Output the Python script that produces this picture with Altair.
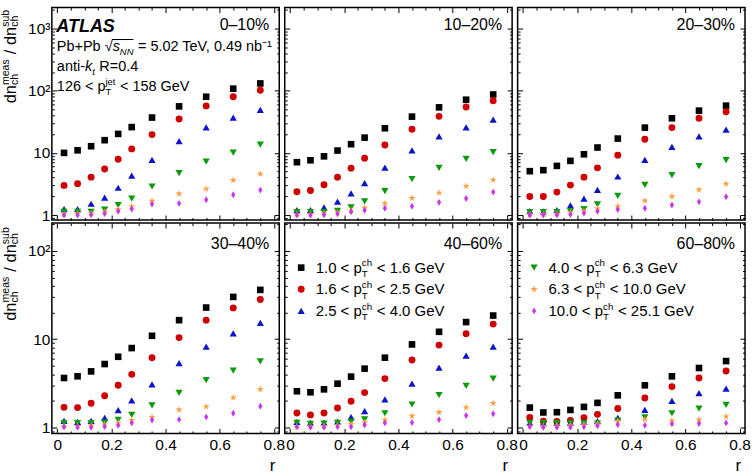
import altair as alt
import pandas as pd

# radial bin centres
R = [0.025, 0.075, 0.125, 0.175, 0.225, 0.275, 0.35, 0.45, 0.55, 0.65, 0.75]

# charged-particle pT intervals (GeV)
PT_LO = ["1.0", "1.6", "2.5", "4.0", "6.3", "10.0"]
PT_HI = ["1.6", "2.5", "4.0", "6.3", "10.0", "25.1"]
SERIES = [f"{a}-{b}" for a, b in zip(PT_LO, PT_HI)]

CENT = ["0–10%", "10–20%", "20–30%", "30–40%", "40–60%", "60–80%"]

# dn_meas / dn_sub per centrality, one list per pT interval
c0_10 = [
    [10.0, 11.0, 12.8, 16.0, 20.2, 26.0, 37.0, 56.0, 80.0, 108.0, 131.0],
    [3.0, 3.2, 4.07, 5.5, 7.9, 11.6, 19.7, 35.0, 57.0, 80.0, 102.0],
    [1.25, 1.25, 1.52, 1.9, 2.75, 4.3, 7.7, 15.4, 25.8, 36.9, 49.0],
    [1.13, 1.13, 1.13, 1.22, 1.45, 1.83, 2.88, 4.72, 7.26, 10.1, 13.6],
    [1.02, 1.05, 1.06, 1.12, 1.23, 1.38, 1.68, 2.2, 2.64, 3.64, 4.6],
    [1.0, 1.0, 1.01, 1.06, 1.15, 1.25, 1.5, 1.54, 1.76, 2.12, 2.52],
]
c10_20 = [
    [7.08, 7.6, 8.8, 10.9, 13.8, 17.6, 24.9, 38.3, 54.0, 71.7, 87.0],
    [2.37, 2.49, 3.07, 4.07, 5.68, 8.2, 13.4, 24.0, 38.7, 54.7, 69.0],
    [1.2, 1.2, 1.33, 1.64, 2.23, 3.26, 5.8, 11.0, 18.5, 25.8, 34.3],
    [1.12, 1.12, 1.12, 1.17, 1.33, 1.66, 2.43, 3.78, 5.74, 8.0, 10.3],
    [1.02, 1.03, 1.05, 1.1, 1.18, 1.3, 1.54, 1.87, 2.28, 2.92, 3.69],
    [1.0, 1.0, 1.01, 1.05, 1.13, 1.19, 1.29, 1.39, 1.6, 1.85, 2.34],
]
c20_30 = [
    [5.08, 5.27, 6.18, 7.44, 9.5, 12.2, 17.0, 25.5, 36.0, 47.8, 57.5],
    [1.99, 1.99, 2.34, 3.03, 4.07, 5.74, 9.2, 16.6, 25.5, 36.0, 46.0],
    [1.16, 1.15, 1.2, 1.43, 1.83, 2.55, 4.17, 7.7, 12.5, 18.5, 23.7],
    [1.12, 1.12, 1.12, 1.15, 1.25, 1.48, 2.04, 3.07, 4.38, 6.1, 7.63],
    [1.02, 1.03, 1.05, 1.1, 1.17, 1.27, 1.38, 1.7, 1.99, 2.55, 3.18],
    [1.0, 1.0, 1.01, 1.02, 1.08, 1.15, 1.23, 1.29, 1.45, 1.64, 1.97],
]
c30_40 = [
    [3.62, 3.78, 4.3, 5.21, 6.3, 7.91, 10.9, 16.4, 22.8, 30.1, 36.2],
    [1.68, 1.67, 1.87, 2.28, 2.99, 3.98, 6.15, 10.4, 16.4, 22.6, 28.1],
    [1.18, 1.15, 1.18, 1.28, 1.56, 2.02, 3.07, 5.35, 8.19, 11.6, 15.3],
    [1.11, 1.11, 1.11, 1.13, 1.21, 1.38, 1.77, 2.45, 3.43, 4.38, 5.58],
    [1.02, 1.03, 1.04, 1.07, 1.12, 1.2, 1.3, 1.58, 1.71, 2.17, 2.69],
    [1.01, 1.0, 1.0, 1.02, 1.05, 1.12, 1.21, 1.22, 1.31, 1.44, 1.73],
]
c40_60 = [
    [2.56, 2.49, 2.69, 3.12, 3.75, 4.62, 6.15, 8.7, 12.1, 15.6, 18.5],
    [1.45, 1.38, 1.45, 1.65, 1.97, 2.47, 3.56, 5.78, 8.55, 11.5, 14.8],
    [1.15, 1.12, 1.13, 1.16, 1.3, 1.52, 2.07, 3.12, 4.74, 6.48, 8.19],
    [1.12, 1.09, 1.1, 1.12, 1.16, 1.23, 1.44, 1.81, 2.32, 2.94, 3.56],
    [1.01, 1.02, 1.03, 1.05, 1.08, 1.13, 1.21, 1.34, 1.48, 1.68, 1.87],
    [1.01, 1.0, 1.0, 1.01, 1.01, 1.06, 1.12, 1.13, 1.22, 1.36, 1.42],
]
c60_80 = [
    [1.67, 1.47, 1.48, 1.57, 1.7, 1.89, 2.3, 2.99, 3.78, 4.7, 5.63],
    [1.29, 1.17, 1.16, 1.19, 1.28, 1.4, 1.63, 2.15, 2.89, 3.62, 4.34],
    [1.12, 1.11, 1.12, 1.13, 1.16, 1.17, 1.28, 1.57, 1.99, 2.43, 2.74],
    [1.12, 1.11, 1.11, 1.12, 1.11, 1.1, 1.19, 1.29, 1.44, 1.63, 1.79],
    [1.03, 1.03, 1.04, 1.05, 1.07, 1.1, 1.17, 1.22, 1.19, 1.22, 1.32],
    [1.02, 1.0, 1.0, 1.0, 1.01, 1.04, 1.07, 1.05, 1.09, 1.1, 1.12],
]
PANELS = [c0_10, c10_20, c20_30, c30_40, c40_60, c60_80]

# marker styles
STAR = ("M0,-1L0.225,-0.309L0.951,-0.309L0.363,0.118L0.588,0.809L0,0.382"
        "L-0.588,0.809L-0.363,0.118L-0.951,-0.309L-0.225,-0.309Z")
DIAMOND = "M0,-1L0.6,0L0,1L-0.6,0Z"
SHAPES = ["square", "circle", "triangle-up", "triangle-down", STAR, DIAMOND]
COLORS = ["#000000", "#d00000", "#0a14c8", "#0a9a0a", "#ffa040", "#cc33ee"]
SIZES = [44, 48, 52, 52, 58, 48]

FONT = "Liberation Sans"
W = 228
HEIGHTS = [213, 211]
XDOM = [-0.02, 0.82]
YDOMS = [[0.831, 2173], [0.849, 207.5]]
XMAJ = [0, 0.2, 0.4, 0.6, 0.8]
XMIN = [0.05, 0.1, 0.15, 0.25, 0.3, 0.35, 0.45, 0.5, 0.55, 0.65, 0.7, 0.75]
YMAJ = [[1, 10, 100, 1000], [1, 10, 100]]
YMIN = [
    [0.9] + [m * d for d in (1, 10, 100) for m in range(2, 10)] + [2000],
    [0.9] + [m * d for d in (1, 10) for m in range(2, 10)] + [200],
]

ONE = pd.DataFrame({"k": [0]})

# Arial / Liberation Sans advance widths (1/1000 em)
ADV = {" ": 278, ".": 278, ",": 278, "<": 584, "=": 584, "+": 584, "-": 333,
       "–": 556, "%": 889, "/": 278, "√": 549, "A": 667, "G": 778,
       "L": 556, "N": 722, "P": 667, "R": 722, "S": 667, "T": 611, "V": 667,
       "a": 556, "b": 556, "c": 500, "d": 556, "e": 556, "h": 556, "i": 222,
       "j": 222, "k": 500, "m": 833, "n": 556, "p": 556, "r": 333, "s": 500,
       "t": 278, "u": 556}


def tw(s, size):
    return sum(ADV.get(ch, 556) for ch in s) / 1000 * size


def txt(s, x, y, size, dx=0.0, dy=0.0, style="normal", weight="normal",
        align="left", angle=0):
    kw = dict(text=s, fontSize=size, font=FONT, align=align,
              baseline="alphabetic", dx=dx, dy=dy, color="black",
              fontStyle=style, fontWeight=weight)
    if angle:
        kw["angle"] = angle
    return alt.Chart(ONE).mark_text(**kw).encode(x=alt.value(x), y=alt.value(y))


def rich(pieces, x, y, size, angle=0, sub_dy=None, sup_dy=None, small=0.65):
    """Lay out a line with sub/superscripts as a sequence of text marks.
    Returns the layers and the advance at the start of every piece.
    Leading blanks are turned into advance, since SVG drops them."""
    sub_dy = 0.3 * size if sub_dy is None else sub_dy
    sup_dy = -0.42 * size if sup_dy is None else sup_dy
    ss = size * small
    out, starts, adv = [], [], 0.0
    for p in pieces:
        starts.append(adv)
        if p[0] == "n":
            style = p[2] if len(p) > 2 else "normal"
            body = p[1].lstrip(" ")
            adv += tw(p[1][: len(p[1]) - len(body)], size)
            out.append(txt(body, x, y, size, dx=adv, style=style, angle=angle))
            adv += tw(body, size)
        else:
            sub, sup = p[1], p[2]
            style = p[3] if len(p) > 3 else "normal"
            if sub:
                out.append(txt(sub, x, y, ss, dx=adv, dy=sub_dy, style=style, angle=angle))
            if sup:
                out.append(txt(sup, x, y, ss, dx=adv, dy=sup_dy, style=style, angle=angle))
            adv += max(tw(sub, ss), tw(sup, ss)) + 0.5
    starts.append(adv)
    return out, starts


def tick_axis(orient, offset, values, size):
    return alt.Axis(orient=orient, offset=offset, values=values, tickSize=size,
                    tickColor="black", tickWidth=1, labels=False, domain=False,
                    grid=False, title=None)


def panel(idx):
    row, col = divmod(idx, 3)
    H = HEIGHTS[row]
    vals = PANELS[idx]
    df = pd.DataFrame([
        {"r": R[j], "v": vals[i][j], "series": SERIES[i]}
        for i in range(len(SERIES)) for j in range(len(R))
    ])
    xs = alt.Scale(domain=XDOM, nice=False, zero=False)
    ys = alt.Scale(type="log", domain=YDOMS[row], nice=False)
    base = alt.Chart(df)

    xlab = None
    if row == 1:
        xlab = alt.Axis(orient="bottom", values=XMAJ, ticks=False, tickSize=0,
                        domain=False, grid=False, title=None, format=".1~f",
                        labelFont=FONT, labelFontSize=15.5, labelColor="black",
                        labelPadding=4, labelFlush=False, labelOverlap=False,
                        labelBaseline="top")
    ylab = None
    if col == 0:
        ylab = alt.Axis(orient="left", values=YMAJ[row], ticks=False, tickSize=0,
                        domain=False, grid=False, title=None,
                        labelExpr="datum.value >= 1000 ? '10³' : datum.value >= 100 ? '10²' : datum.value >= 10 ? '10' : '1'",
                        labelFont=FONT, labelFontSize=15.5, labelColor="black",
                        labelPadding=2, labelFlush=False, labelOverlap=False)

    pts = base.mark_point(filled=True, opacity=1, strokeWidth=0).encode(
        x=alt.X("r:Q", scale=xs, axis=xlab),
        y=alt.Y("v:Q", scale=ys, axis=ylab),
        shape=alt.Shape("series:N", scale=alt.Scale(domain=SERIES, range=SHAPES), legend=None),
        color=alt.Color("series:N", scale=alt.Scale(domain=SERIES, range=COLORS), legend=None),
        size=alt.Size("series:O", scale=alt.Scale(type="ordinal", domain=SERIES, range=SIZES), legend=None),
    )

    layers = [pts]
    # inward ticks on all four edges
    for xo, yo, xv, yv, sz in [
        ("top", "right", XMAJ, YMAJ[row], 5),
        ("top", "right", XMIN, YMIN[row], 2.5),
        ("bottom", "left", XMAJ, YMAJ[row], 5),
        ("bottom", "left", XMIN, YMIN[row], 2.5),
    ]:
        layers.append(base.mark_point(opacity=0).encode(
            x=alt.X("r:Q", scale=xs, axis=tick_axis(xo, -H, xv, sz)),
            y=alt.Y("v:Q", scale=ys, axis=tick_axis(yo, -W, yv, sz)),
        ))

    # centrality label
    cy = 22.5 if row == 0 else 26
    layers.append(txt(CENT[idx], W - 10, cy, 16, align="right"))

    if col == 0:
        t, _ = rich([("n", "dn"), ("s", "ch", "meas"), ("n", " / "),
                     ("n", "dn"), ("s", "ch", "sub")],
                    -36, 96 if row == 0 else 98, 16.5, angle=270,
                    sub_dy=2.5, sup_dy=-7, small=0.64)
        layers += t
    if idx == 0:
        fs = 14.5
        layers.append(txt("ATLAS", 4.5, 24.7, 18, style="italic", weight="bold"))
        x0, y0 = 5, 43.3
        t, st = rich([("n", "Pb+Pb "), ("n", "√"), ("n", "s", "italic"),
                      ("s", "NN", "", "italic"), ("n", " = 5.02 TeV, 0.49 nb⁻¹")],
                     x0, y0, fs)
        layers += t
        # overline of the square root
        layers.append(alt.Chart(ONE).mark_rule(color="black", strokeWidth=1).encode(
            x=alt.value(x0 + st[1] + tw("√", fs) - 0.8), x2=alt.value(x0 + st[4] - 0.5),
            y=alt.value(y0 - 0.78 * fs)))
        t, _ = rich([("n", "anti-"), ("n", "k", "italic"), ("s", "t", "", "italic"),
                     ("n", " R=0.4")], x0, 63.3, fs)
        layers += t
        t, _ = rich([("n", "126 < p"), ("s", "T", "jet"), ("n", " < 158 GeV")],
                    x0, 83.3, fs)
        layers += t
    if row == 1:
        layers.append(txt("r", W - 4, H + 38, 17, align="right"))
    if idx in (4, 5):
        first = 0 if idx == 4 else 3
        for k in range(3):
            i = first + k
            yk = 44.7 + 21.7 * k
            layers.append(alt.Chart(ONE).mark_point(
                filled=True, opacity=1, strokeWidth=0, shape=SHAPES[i],
                size=SIZES[i], color=COLORS[i]).encode(x=alt.value(16.5), y=alt.value(yk)))
            t, _ = rich([("n", f"{PT_LO[i]} < p"), ("s", "T", "ch"),
                         ("n", f" < {PT_HI[i]} GeV")], 31, yk + 5, 15)
            layers += t

    return alt.layer(*layers).resolve_axis(x="independent", y="independent").properties(
        width=W, height=H)


chart = alt.concat(*[panel(i) for i in range(6)], columns=3,
                   spacing={"row": 3, "column": 5.5}, bounds="flush").properties(
    padding={"left": 0, "top": 5, "right": 0, "bottom": 0},
    background="white",
).configure_view(stroke="black", strokeWidth=1.5)

chart.save("out.html", embed_options={"renderer": "svg", "actions": False})
